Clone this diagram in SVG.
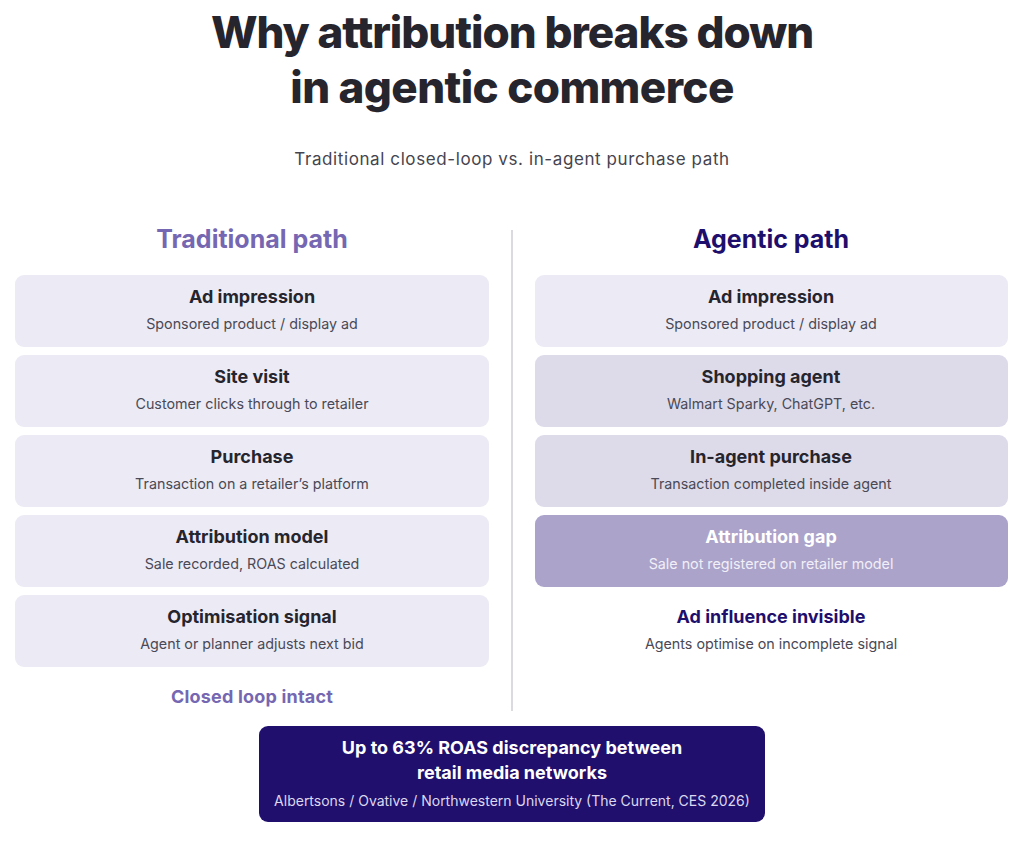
<svg xmlns="http://www.w3.org/2000/svg" width="1024" height="868" viewBox="0 0 1024 868">
<style>
text{font-family:Inter,"Noto Sans","Liberation Sans",sans-serif;text-anchor:middle}
.title{font-size:44px;font-weight:800;fill:#26252e;letter-spacing:-1px}
.sub{font-size:17px;fill:#45444f;letter-spacing:0.6px}
.hl{font-size:25px;font-weight:700;fill:#7567b1}
.hr{font-size:25px;font-weight:700;fill:#1f0f6d}
.box{fill:#ecebf5}
.box2{fill:#dddbea}
.gap{fill:#aba3ca}
.bt{font-size:18px;font-weight:700;fill:#26252e}
.bs{font-size:14.3px;fill:#4a4955}
.wt{fill:#ffffff}
.ws{fill:#f1eff8}
</style>
<rect width="1024" height="868" fill="#ffffff"/>
<g id="title">
<text class="title" x="512" y="48">Why attribution breaks down</text>
<text class="title" x="512" y="103" style="letter-spacing:-0.6px">in agentic commerce</text>
<text class="sub" x="512" y="165">Traditional closed-loop vs. in-agent purchase path</text>
</g>
<g id="divider"><line x1="512" y1="230" x2="512" y2="711" stroke="#cfcfd4" stroke-width="1.5"/></g>
<g id="header-left"><text class="hl" x="252" y="248">Traditional path</text></g>
<g id="header-right"><text class="hr" x="771" y="248">Agentic path</text></g>
<g id="t1"><rect class="box" x="15" y="275" width="474" height="72" rx="9"/><text class="bt" x="252" y="303">Ad impression</text><text class="bs" x="252" y="329">Sponsored product / display ad</text></g>
<g id="t2"><rect class="box" x="15" y="355" width="474" height="72" rx="9"/><text class="bt" x="252" y="383">Site visit</text><text class="bs" x="252" y="409">Customer clicks through to retailer</text></g>
<g id="t3"><rect class="box" x="15" y="435" width="474" height="72" rx="9"/><text class="bt" x="252" y="463">Purchase</text><text class="bs" x="252" y="489">Transaction on a retailer’s platform</text></g>
<g id="t4"><rect class="box" x="15" y="515" width="474" height="72" rx="9"/><text class="bt" x="252" y="543">Attribution model</text><text class="bs" x="252" y="569">Sale recorded, ROAS calculated</text></g>
<g id="t5"><rect class="box" x="15" y="595" width="474" height="72" rx="9"/><text class="bt" x="252" y="623">Optimisation signal</text><text class="bs" x="252" y="649">Agent or planner adjusts next bid</text></g>
<g id="closed"><text class="hl" style="font-size:18px;letter-spacing:0.2px" x="252" y="703">Closed loop intact</text></g>
<g id="a1"><rect class="box" x="535" y="275" width="473" height="72" rx="9"/><text class="bt" x="771" y="303">Ad impression</text><text class="bs" x="771" y="329">Sponsored product / display ad</text></g>
<g id="a2"><rect class="box2" x="535" y="355" width="473" height="72" rx="9"/><text class="bt" x="771" y="383">Shopping agent</text><text class="bs" x="771" y="409">Walmart Sparky, ChatGPT, etc.</text></g>
<g id="a3"><rect class="box2" x="535" y="435" width="473" height="72" rx="9"/><text class="bt" x="771" y="463">In-agent purchase</text><text class="bs" x="771" y="489">Transaction completed inside agent</text></g>
<g id="a4"><rect class="gap" x="535" y="515" width="473" height="72" rx="9"/><text class="bt wt" x="771" y="543">Attribution gap</text><text class="bs ws" x="771" y="569">Sale not registered on retailer model</text></g>
<g id="invisible"><text class="hr" style="font-size:18px" x="771" y="623">Ad influence invisible</text><text class="bs" x="771" y="649">Agents optimise on incomplete signal</text></g>
<g id="callout"><rect x="259" y="726" width="506" height="96" rx="9" fill="#200f6d"/><text class="bt wt" x="512" y="754">Up to 63% ROAS discrepancy between</text><text class="bt wt" x="512" y="779">retail media networks</text><text class="bs" style="fill:#dcd8ef;font-size:14px" x="512" y="806">Albertsons / Ovative / Northwestern University (The Current, CES 2026)</text></g>
</svg>
